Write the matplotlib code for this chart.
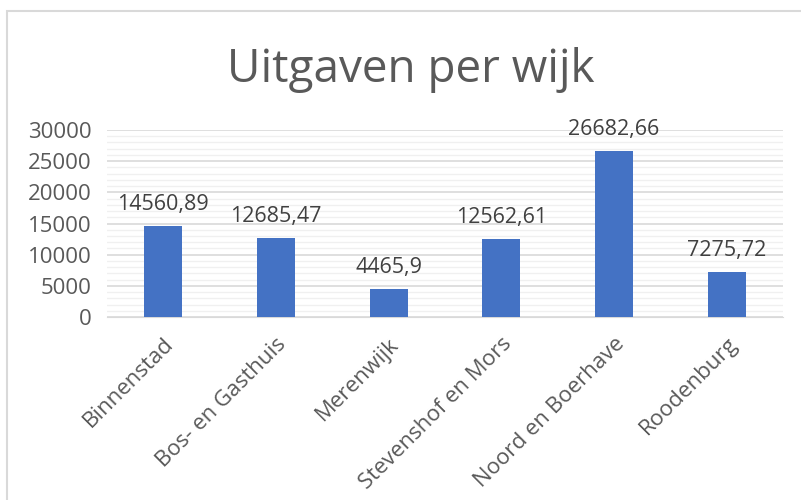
import numpy as np
import matplotlib.pyplot as plt
from matplotlib.patches import Rectangle

wijken = ['Binnenstad', 'Bos- en Gasthuis', 'Merenwijk', 'Stevenshof en Mors',
          'Noord en Boerhave', 'Roodenburg']
uitgaven = [14560.89, 12685.47, 4465.9, 12562.61, 26682.66, 7275.72]
labels = ['14560,89', '12685,47', '4465,9', '12562,61', '26682,66', '7275,72']

plt.rcParams['font.family'] = ['Open Sans', 'DejaVu Sans']
fig = plt.figure(figsize=(8.01, 5.0), dpi=100)
ax = fig.add_axes([107/801, 1-317/500, 676/801, 187/500])

# chart border like in Excel
fig.patches.append(Rectangle((7/801, -0.1), 1.2, 1-11/500+0.1, transform=fig.transFigure,
                             fill=False, edgecolor='#d9d9d9', linewidth=1.5))

x = np.arange(len(wijken))
bars = ax.bar(x, uitgaven, width=0.34, color='#4472c4', zorder=3)
for i in range(len(x)):
    ax.annotate(labels[i], (x[i], uitgaven[i]), xytext=(0, 8), textcoords='offset points',
                ha='center', va='bottom', fontsize=15.5, color='#404040', zorder=4)

ax.set_xlim(-0.5, len(wijken) - 0.5)
ax.set_ylim(0, 30000)
ax.set_yticks(np.arange(0, 30001, 5000))
ax.set_yticks(np.arange(0, 30001, 1000), minor=True)
ax.grid(axis='y', which='major', color='#d9d9d9', linewidth=1.2, zorder=0)
ax.grid(axis='y', which='minor', color='#f0f0f0', linewidth=1.0, zorder=0)
ax.tick_params(axis='y', which='both', length=0, labelsize=16, labelcolor='#595959', pad=11)
ax.tick_params(axis='x', length=0, pad=12)
ax.set_xticks(x)
ax.set_xticklabels(wijken, rotation=45, ha='right', rotation_mode='anchor',
                   fontsize=16, color='#595959')
for s in ['top', 'right', 'left']:
    ax.spines[s].set_visible(False)
ax.spines['bottom'].set_color('#d9d9d9')

fig.text(411/801, 1-70/500, 'Uitgaven per wijk', ha='center', va='center',
         fontsize=33, color='#595959')

plt.savefig('out.png', dpi=100)
